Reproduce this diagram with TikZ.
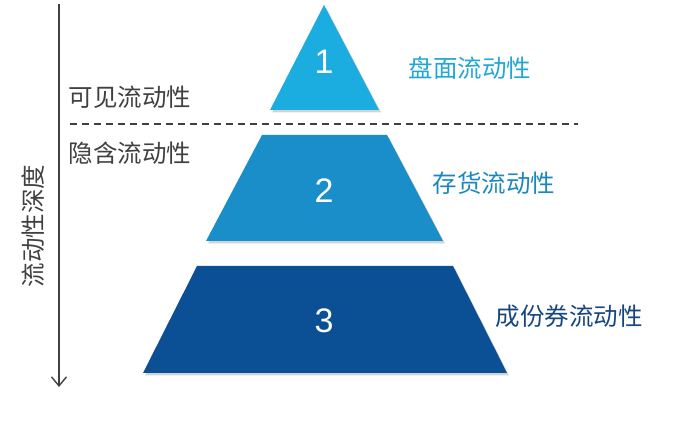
\documentclass[tikz,border=0pt]{standalone}
\usepackage{fontspec}
\newfontfamily\cjk{Noto Sans CJK SC}
\newfontfamily\digitfont{Liberation Sans}
\usetikzlibrary{arrows.meta,shadows}
\definecolor{levelone}{HTML}{1BADDF}
\definecolor{leveltwo}{HTML}{1A8EC8}
\definecolor{levelthree}{HTML}{0B4F94}
\definecolor{labelone}{HTML}{22A6D4}
\definecolor{labeltwo}{HTML}{1C87BE}
\definecolor{labelthree}{HTML}{17467F}
\definecolor{greytext}{HTML}{404040}
\begin{document}
\begin{tikzpicture}[
    x=1pt, y=-1pt,
    layer/.style={draw=none, drop shadow={opacity=0.35, shadow xshift=2pt, shadow yshift=-2.5pt}},
    num/.style={text=white, font=\digitfont\fontsize{34}{34}\selectfont},
    side/.style={anchor=west, font=\cjk\fontsize{24.5}{24.5}\selectfont},
    arrow/.style={-{Straight Barb[length=9pt,width=15pt]}, line width=1.4pt, draw=greytext}
]
    \useasboundingbox (0,0) rectangle (678,430);

    % Pyramid levels
    \fill [layer, fill=levelone] (324,5) -- (379,110) -- (270,110) -- cycle;
    \fill [layer, fill=leveltwo] (262,135) -- (387,135) -- (443,241) -- (206,241) -- cycle;
    \fill [layer, fill=levelthree] (197,266) -- (453,266) -- (507,373) -- (143,373) -- cycle;

    \node [num] (one) at (324,62) {1};
    \node [num] (two) at (324,191) {2};
    \node [num] (three) at (324,321) {3};

    % Side annotations
    \node [side, text=labelone] (surface) at (405,68) {盘面流动性};
    \node [side, text=labeltwo] (stock) at (429,183) {存货流动性};
    \node [side, text=labelthree] (basket) at (492,316) {成份券流动性};

    % Depth axis
    \coordinate (axistop) at (59,4);
    \coordinate (axisbottom) at (59,387);
    \draw [arrow] (axistop) -- (axisbottom);
    \node [font=\cjk\fontsize{24.5}{24.5}\selectfont, text=greytext, rotate=90] (depth) at (33,226) {流动性深度};

    % Visible / hidden split
    \coordinate (splitleft) at (70,124);
    \coordinate (splitright) at (578,124);
    \draw [greytext, line width=1.3pt, dash pattern=on 7pt off 5pt] (splitleft) -- (splitright);
    \node [side, text=greytext] (visible) at (65,97) {可见流动性};
    \node [side, text=greytext] (hidden) at (65,153) {隐含流动性};

\end{tikzpicture}
\end{document}
